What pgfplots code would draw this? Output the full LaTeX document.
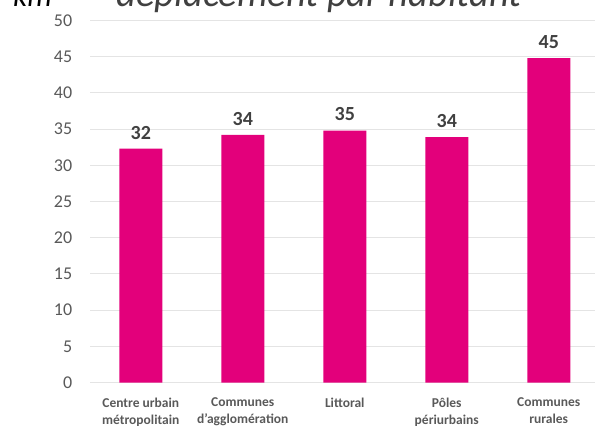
\documentclass[border=0pt]{standalone}
\usepackage{pgfplots}
\pgfplotsset{compat=1.18}
\usepackage{fontspec}
\setmainfont{Carlito}

\definecolor{barpink}{HTML}{E3007B}
\definecolor{gridgray}{HTML}{E4E4E4}
\definecolor{ticktext}{HTML}{595959}
\definecolor{valtext}{HTML}{404040}

\begin{document}
\begin{tikzpicture}[x=1pt,y=1pt]
\begin{axis}[
    at={(88,60)}, anchor=south west,
    scale only axis,
    width=510pt, height=362pt,
    xmin=-0.5, xmax=4.5,
    ymin=0, ymax=50,
    ytick={0,5,...,50},
    xtick={0,1,2,3,4},
    xticklabels={{Centre urbain\\métropolitain},{Communes\\d'agglomération},{Littoral},{Pôles\\périurbains},{Communes\\rurales}},
    xticklabel style={align=center, font=\fontsize{13.5}{16.5}\selectfont\bfseries, text=ticktext, yshift=-12pt},
    yticklabel style={font=\fontsize{18}{20}\selectfont, text=ticktext, xshift=-14pt},
    /pgf/number format/assume math mode=true,
    axis line style={draw=none},
    major tick length=0pt,
    ymajorgrids, grid style={gridgray, line width=1pt},
    ybar, bar width=43pt,
    nodes near coords,
    point meta=explicit symbolic,
    nodes near coords style={font=\fontsize{20}{22}\selectfont\bfseries, text=valtext, yshift=6pt},
]
\addplot[fill=barpink, draw=none] coordinates {
    (0,32.3) [32]
    (1,34.2) [34]
    (2,34.8) [35]
    (3,33.9) [34]
    (4,44.8) [45]
};
\end{axis}
\node[anchor=base, font=\fontsize{38.5}{41}\selectfont\itshape, text=valtext, inner sep=0pt] at (319,419) {déplacement par habitant};
\node[anchor=base west, font=\fontsize{31}{33}\selectfont\itshape, inner sep=0pt] at (13,419) {km};
\pgfresetboundingbox
\path[use as bounding box] (0,0) rectangle (595,426);
\end{tikzpicture}
\end{document}
